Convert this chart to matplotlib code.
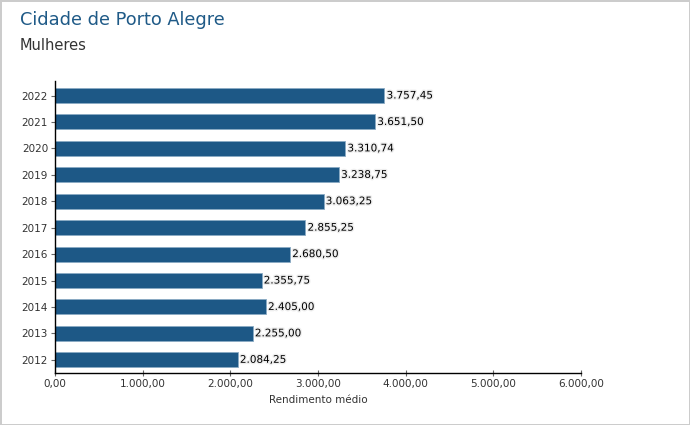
import matplotlib.pyplot as plt
import matplotlib.patheffects as pe
from matplotlib.ticker import FuncFormatter

# ============== dados ==============
anos = ['2012', '2013', '2014', '2015', '2016', '2017', '2018', '2019', '2020', '2021', '2022']
rendimento = [2084.25, 2255.00, 2405.00, 2355.75, 2680.50, 2855.25,
              3063.25, 3238.75, 3310.74, 3651.50, 3757.45]
x_ticks = [0, 1000, 2000, 3000, 4000, 5000, 6000]


def fmt_br(v):
    # formato brasileiro: 1.234,56
    s = f"{v:,.2f}"
    return s.replace(',', 'X').replace('.', ',').replace('X', '.')


fig = plt.figure(figsize=(6.9, 4.25), dpi=100)
fig.patch.set_edgecolor('#cccccc')
fig.patch.set_linewidth(1.0)

ax = fig.add_axes([55 / 690, 1 - 373 / 425, 526 / 690, 292 / 425])

pos = list(range(len(anos)))
ax.barh(pos, rendimento, height=0.57, color='#1d5886',
        edgecolor='#8aaac4', linewidth=0.6)

for y, v in zip(pos, rendimento):
    ax.text(v + 25, y, fmt_br(v), va='center', ha='left', fontsize=7.5,
            color='black',
            path_effects=[pe.withStroke(linewidth=2, foreground='#eeeeee')])

ax.set_xlim(0, 6000)
ax.set_ylim(-0.5, 10.55)
ax.set_xticks(x_ticks)
ax.xaxis.set_major_formatter(FuncFormatter(lambda v, p: fmt_br(v)))
ax.set_yticks(pos)
ax.set_yticklabels(anos)

for s in ['top', 'right']:
    ax.spines[s].set_visible(False)
ax.spines['left'].set_color('black')
ax.spines['bottom'].set_color('black')
ax.spines['left'].set_linewidth(1)
ax.spines['bottom'].set_linewidth(1)

ax.tick_params(axis='x', direction='inout', length=5, color='#666666',
               labelsize=7.5, labelcolor='#333333', pad=2)
ax.tick_params(axis='y', direction='out', length=3, color='#666666',
               labelsize=7.5, labelcolor='#333333', pad=2)

ax.set_xlabel('Rendimento médio', fontsize=7.5, color='#333333', labelpad=4)

fig.text(20 / 690, 1 - 20 / 425, 'Cidade de Porto Alegre', fontsize=12.8,
         color='#1f5a87', va='center', ha='left')
fig.text(20 / 690, 1 - 45 / 425, 'Mulheres', fontsize=10.5,
         color='#333333', va='center', ha='left')

fig.savefig('out.png', dpi=100, edgecolor=fig.get_edgecolor())
